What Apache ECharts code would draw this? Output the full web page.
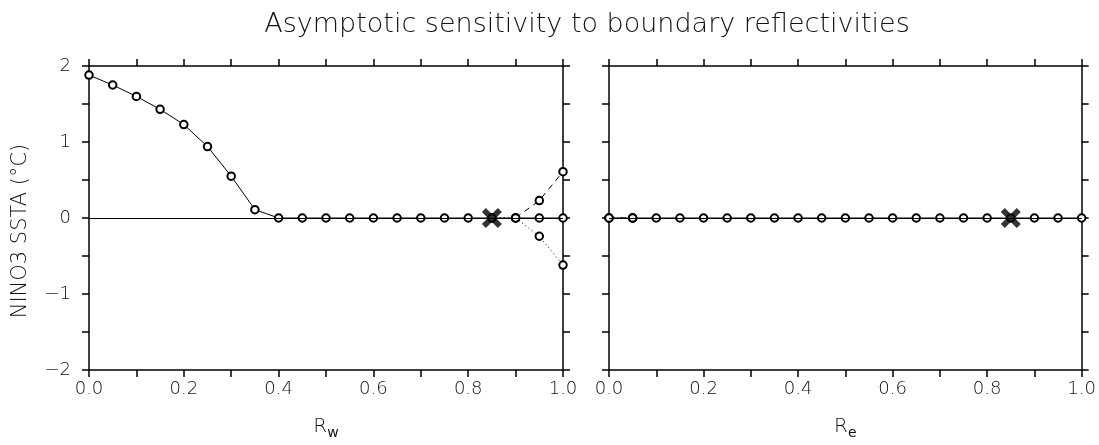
<!DOCTYPE html>
<html><head><meta charset="utf-8">
<script src="https://cdn.jsdelivr.net/npm/echarts@6/dist/echarts.min.js"></script>
<style>html,body{margin:0;padding:0;background:#fff}#c{width:1099px;height:445px}</style>
</head><body><div id="c"></div>
<script>
const titleText = 'Asymptotic sensitivity to boundary reflectivities';
const yAxisName = 'NINO3 SSTA (°C)';
const rGrid = [0,0.05,0.1,0.15,0.2,0.25,0.3,0.35,0.4,0.45,0.5,0.55,0.6,0.65,0.7,0.75,0.8,0.85,0.9,0.95,1.0];
const leftSolid  = [1.88,1.75,1.60,1.43,1.23,0.94,0.55,0.11,0,0,0,0,0,0,0,0,0,0,0,0,0];
const leftDashedX = [0.9,0.95,1.0];
const leftDashed  = [0,0.23,0.61];
const leftDottedX = [0.85,0.9,0.95,1.0];
const leftDotted  = [0,0,-0.24,-0.62];
const rightSolid = [0,0,0,0,0,0,0,0,0,0,0,0,0,0,0,0,0,0,0,0,0];
const rightDashedX = [0,0.05];
const rightDashed  = [0,0];
const rightDottedX = [0,0.05];
const rightDotted  = [0,0];
const crossX = [0.85];
const crossY = [0];
const yTickLabels = ['−2','−1','0','1','2'];

const font = 'DejaVu Sans';
const pair = (xs, ys) => xs.map((x,i)=>[x, ys[i]]);
const crossPath = 'path://M0,4 L4,0 L10,6 L16,0 L20,4 L14,10 L20,16 L16,20 L10,14 L4,20 L0,16 L6,10 Z';

const grids = [
  {left: 89, right: 536, top: 66, bottom: 69},
  {left: 609, right: 17, top: 66, bottom: 69}
];
const axLine = {show: true, onZero: false, lineStyle: {color: '#000', width: 1.5}};
const tick = {show: true, inside: false, length: 7, lineStyle: {color: '#000', width: 1.5}};
const labelStyle = {color: '#111', fontFamily: font, fontSize: 18, fontWeight: 200};

function xAxes(gi, name) {
  return [
    {type:'value', gridIndex: gi, position:'bottom', min:0, max:1, interval:0.1,
     axisLine: axLine, axisTick: tick, splitLine:{show:false},
     axisLabel: Object.assign({margin: 10, showMinLabel:true, showMaxLabel:true,
       formatter: v => (Math.round(v*10)%2===0 ? v.toFixed(1) : '')}, labelStyle),
     name: name, nameLocation:'middle', nameGap: 44,
     nameTextStyle: {rich: {
       r: {fontFamily: font, fontSize: 20, fontWeight: 200, color:'#111'},
       s: {fontFamily: font, fontSize: 14, fontWeight: 'normal', color:'#111', padding:[12,0,0,0]}
     }}},
    {type:'value', gridIndex: gi, position:'top', min:0, max:1, interval:0.1,
     axisLine: axLine, axisTick: tick, splitLine:{show:false}, axisLabel:{show:false}}
  ];
}
function yAxes(gi, showLabels) {
  return [
    {type:'value', gridIndex: gi, position:'left', min:-2, max:2, interval:0.5,
     axisLine: axLine, axisTick: tick, splitLine:{show:false},
     axisLabel: Object.assign({show: showLabels, margin: 18,
       formatter: v => (Number.isInteger(v) ? yTickLabels[v+2] : '')}, labelStyle)},
    {type:'value', gridIndex: gi, position:'right', min:-2, max:2, interval:0.5,
     axisLine: axLine, axisTick: tick, splitLine:{show:false}, axisLabel:{show:false}}
  ];
}

function lineSeries(xi, yi, data, type, z) {
  return {type:'line', xAxisIndex: xi, yAxisIndex: yi, data: data,
    symbol:'emptyCircle', symbolSize: 7.5, showSymbol: true, z: z||3,
    itemStyle:{color:'#000', borderColor:'#000', borderWidth:1.2},
    lineStyle:{color:'#000', width:1, type: type},
    animation:false, silent:true};
}
function zeroLine(xi, yi) {
  return {type:'line', xAxisIndex: xi, yAxisIndex: yi, data: [], silent:true,
    markLine:{silent:true, symbol:['none','none'], label:{show:false},
      lineStyle:{color:'#000', width:1, type:'solid'}, data:[{yAxis:0}]}};
}
function crossSeries(xi, yi) {
  return {type:'scatter', xAxisIndex: xi, yAxisIndex: yi, data: pair(crossX, crossY),
    symbol: crossPath, symbolSize: 20, itemStyle:{color:'#000'}, z: 10, silent:true, animation:false};
}

const option = {
  backgroundColor:'#fff',
  animation:false,
  title: {text: titleText, left: 582, top: 6, textAlign:'center',
    textStyle:{fontFamily: font, fontSize: 27, fontWeight: 200, color:'#111'}},
  graphic: [{type:'text', x: 21, y: 231, rotation: Math.PI/2,
    style:{text: yAxisName, fontFamily: font, fontSize: 21, fontWeight: 200, fill:'#111',
      textAlign:'center', textVerticalAlign:'middle'}}],
  grid: grids,
  xAxis: [...xAxes(0, '{r|R}{s|w}'), ...xAxes(1, '{r|R}{s|e}')],
  yAxis: [...yAxes(0, true), ...yAxes(1, false)],
  series: [
    zeroLine(0,0),
    lineSeries(0,0, pair(rGrid, leftSolid), 'solid'),
    lineSeries(0,0, pair(leftDashedX, leftDashed), [6,5]),
    lineSeries(0,0, pair(leftDottedX, leftDotted), [1,3]),
    crossSeries(0,0),
    zeroLine(2,2),
    lineSeries(2,2, pair(rGrid, rightSolid), 'solid'),
    lineSeries(2,2, pair(rightDashedX, rightDashed), [6,5]),
    lineSeries(2,2, pair(rightDottedX, rightDotted), [1,3]),
    crossSeries(2,2)
  ]
};
echarts.init(document.getElementById('c'), null, {renderer:'canvas'}).setOption(option);
</script></body></html>
